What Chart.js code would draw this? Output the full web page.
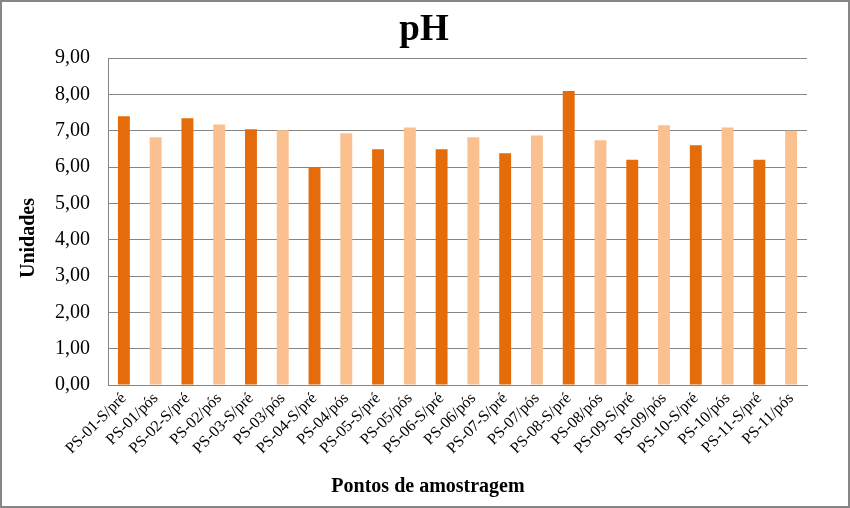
<!DOCTYPE html>
<html><head><meta charset="utf-8">
<script src="https://cdn.jsdelivr.net/npm/chart.js@4"></script>
<style>html,body{margin:0;padding:0;background:#fff}#w{width:850px;height:508px;position:relative}</style>
</head><body><div id="w"><canvas id="c" width="850" height="508"></canvas></div>
<script>
const categories = ["PS-01-S/pré","PS-01/pós","PS-02-S/pré","PS-02/pós","PS-03-S/pré","PS-03/pós","PS-04-S/pré","PS-04/pós","PS-05-S/pré","PS-05/pós","PS-06-S/pré","PS-06/pós","PS-07-S/pré","PS-07/pós","PS-08-S/pré","PS-08/pós","PS-09-S/pré","PS-09/pós","PS-10-S/pré","PS-10/pós","PS-11-S/pré","PS-11/pós"];
const phValues = [7.40,6.82,7.34,7.17,7.04,7.01,6.00,6.93,6.49,7.09,6.49,6.82,6.38,6.87,8.09,6.74,6.20,7.15,6.60,7.09,6.20,7.00];
const chartTitle = "pH";
const xTitle = "Pontos de amostragem";
const yTitle = "Unidades";
const darkColor = "#E46C0A";
const lightColor = "#FAC090";
const barColors = categories.map((c,i)=> i%2===0 ? darkColor : lightColor);
const serif = "'Liberation Serif','Times New Roman',serif";
const deco = {id:'deco', afterDraw(ch){
  const x=ch.ctx; x.save();
  x.fillStyle='#000'; x.textAlign='center'; x.textBaseline='alphabetic';
  x.font="bold 37px "+serif; x.fillText(chartTitle,424,40);
  x.font="bold 20px "+serif; x.fillText(xTitle,428,492);
  x.save(); x.translate(34,238); x.rotate(-Math.PI/2); x.fillText(yTitle,0,0); x.restore();
  x.strokeStyle='#868686'; x.lineWidth=2; x.strokeRect(1,1,848,506);
  x.restore();}};
new Chart(document.getElementById('c'), {
  type:'bar',
  data:{labels:categories, datasets:[{data:phValues, backgroundColor:barColors, barPercentage:0.75, categoryPercentage:0.5}]},
  options:{
    responsive:false, animation:false,
    layout:{padding:{left:37,right:43,top:58,bottom:46}},
    plugins:{legend:{display:false}, tooltip:{enabled:false}, title:{display:false}},
    scales:{
      y:{min:0,max:9,ticks:{stepSize:1,color:'#000',font:{family:serif,size:20},padding:18,
          callback:v=>v.toFixed(2).replace('.',',')},
         grid:{color:'#868686',drawTicks:false}, border:{color:'#868686'}},
      x:{ticks:{color:'#000',font:{family:serif,size:16},minRotation:45,maxRotation:45,autoSkip:false,padding:4},
         grid:{display:false,drawTicks:false}, border:{color:'#868686'}}
    }
  },
  plugins:[deco]
});
</script></body></html>
